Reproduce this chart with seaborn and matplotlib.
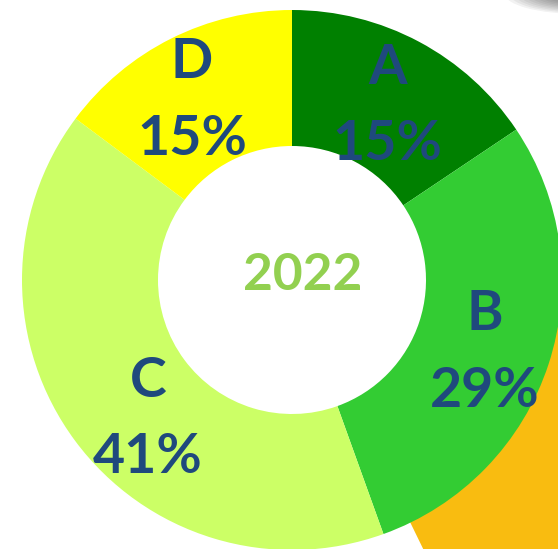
"""
Donut chart of the 2022 share by category (A-D).
"""

import matplotlib.pyplot as plt
import numpy as np
import seaborn as sns
from matplotlib.patches import Ellipse, Wedge

sns.set_theme(style="white")
plt.rcParams["font.family"] = ["Lato", "DejaVu Sans"]

categories = ["A", "B", "C", "D"]
slice_sizes = [15.6, 28.9, 40.7, 14.8]      # measured slice angles
label_pcts = [15, 29, 41, 15]               # percentages printed on the chart
slice_colors = ["#008000", "#33CC33", "#CCFF66", "#FFFF00"]
center_label = "2022"

W, H = 558, 549
cx, cy = 292, H - 280
r_out, r_in = 270, 134

# small hand nudges (px) so labels sit where the original placed them
nudge = {"A": (0, -5), "B": (0, -9), "C": (19, -18), "D": (-9, -2)}

fig = plt.figure(figsize=(W / 100, H / 100), dpi=100)
ax = fig.add_axes([0, 0, 1, 1])

# orange ring from the chart behind, peeking out at the bottom right
ax.add_patch(Wedge((cx, cy), 460, -64, 2, width=460 - r_out + 2,
                   color="#F9BC10", lw=0, zorder=0))

# soft shadow in the top right corner
for s in np.linspace(1, 0.3, 12):
    ax.add_patch(Ellipse((580, H + 6), 150 * s, 40 * s, color="#222222",
                         alpha=0.06, lw=0, zorder=0))

wedges, _ = ax.pie(slice_sizes, colors=slice_colors, startangle=90,
                   counterclock=False, center=(cx, cy), radius=r_out, frame=True,
                   wedgeprops=dict(width=r_out - r_in, linewidth=0))
for w in wedges:
    w.set_zorder(2)
ax.set_xlim(0, W)
ax.set_ylim(0, H)
ax.axis("off")

r_mid = (r_out + r_in) / 2 + 1
for w, cat, val in zip(wedges, categories, label_pcts):
    ang = np.deg2rad((w.theta1 + w.theta2) / 2)
    dx, dy = nudge[cat]
    x = cx + r_mid * np.cos(ang) + dx
    y = cy + r_mid * np.sin(ang) + dy
    ax.text(x, y, f"{cat}\n{val}%", ha="center", va="center", fontsize=40,
            fontweight="bold", color="#1F497D", linespacing=1.65, zorder=3)

ax.text(cx + 11, cy + 5, center_label, ha="center", va="center", fontsize=37,
        fontweight="bold", color="#92D050", zorder=3)

fig.savefig("out.png", dpi=100)
